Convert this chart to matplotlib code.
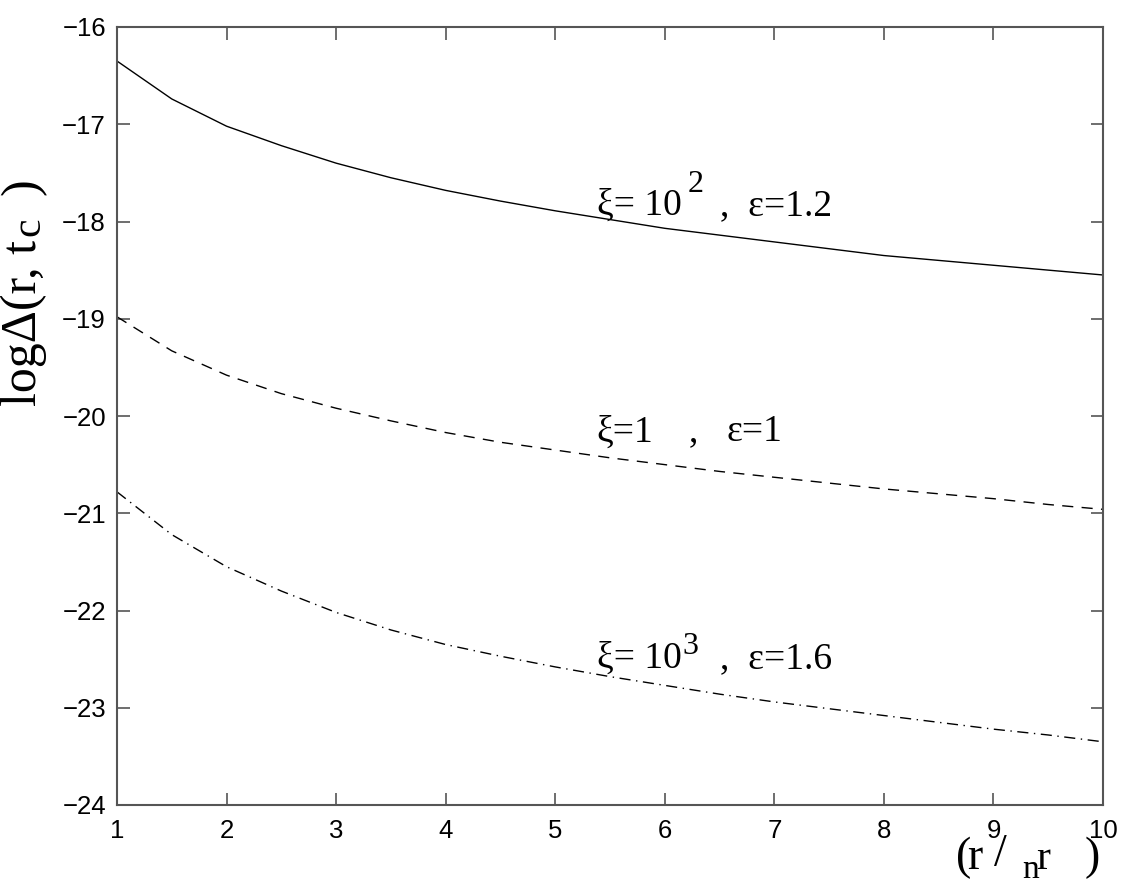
import matplotlib
matplotlib.use('Agg')
import matplotlib.pyplot as plt
from matplotlib.ticker import FixedLocator

# figure parameters
FIG_W, FIG_H = 1130, 884
DPI = 100
TICK_SIZE = 18.5
NOTE_SIZE = 27
LABEL_SIZE = 33

r_ratio = [1, 1.5, 2, 2.5, 3, 3.5, 4, 4.5, 5, 5.5, 6, 6.5, 7, 7.5, 8, 8.5, 9, 9.5, 10]

# xi = 10^2, eps = 1.2
log_delta_a = [-16.35, -16.74, -17.02, -17.22, -17.40, -17.55, -17.68, -17.79, -17.89, -17.98,
               -18.07, -18.14, -18.21, -18.28, -18.35, -18.40, -18.45, -18.50, -18.55]
# xi = 1, eps = 1
log_delta_b = [-18.98, -19.33, -19.58, -19.77, -19.92, -20.05, -20.17, -20.27, -20.35, -20.43,
               -20.50, -20.57, -20.63, -20.69, -20.75, -20.80, -20.85, -20.91, -20.96]
# xi = 10^3, eps = 1.6
log_delta_c = [-20.78, -21.22, -21.55, -21.80, -22.02, -22.20, -22.35, -22.47, -22.58, -22.68,
               -22.77, -22.86, -22.94, -23.01, -23.08, -23.15, -23.22, -23.28, -23.35]

x_ticks = list(range(1, 11))
y_ticks = list(range(-24, -15))

SERIF = 'Liberation Serif'


def px(x, y):
    # pixel position (from top-left) -> figure fraction
    return x / FIG_W, 1 - y / FIG_H


fig = plt.figure(figsize=(FIG_W / DPI, FIG_H / DPI), dpi=DPI)
l, b = px(117, 805)
r, t = px(1103, 27)
ax = fig.add_axes([l, b, r - l, t - b])

ax.plot(r_ratio, log_delta_a, '-', color='black', lw=1.0)
ax.plot(r_ratio, log_delta_b, color='black', lw=1.0, linestyle=(0, (8, 6)))
ax.plot(r_ratio, log_delta_c, color='black', lw=1.0, linestyle=(0, (8, 4, 1, 4)))

ax.set_xlim(1, 10)
ax.set_ylim(-24, -16)
ax.xaxis.set_major_locator(FixedLocator(x_ticks))
ax.yaxis.set_major_locator(FixedLocator(y_ticks))
ax.set_xticklabels([str(v) for v in x_ticks])
ax.set_yticklabels(['\u2212%d' % -v for v in y_ticks])
ax.tick_params(direction='in', length=9, width=1.2, color='#555555',
               top=True, right=True, labelsize=TICK_SIZE)
ax.tick_params(axis='x', pad=10)
ax.tick_params(axis='y', pad=8)
for lab in ax.get_xticklabels() + ax.get_yticklabels():
    lab.set_family('Liberation Sans')
for sp in ax.spines.values():
    sp.set_color('#555555')
    sp.set_linewidth(1.5)

# curve annotations
ax.text(5.38, -17.93, '\u03be= 10', fontsize=NOTE_SIZE, family=SERIF)
ax.text(6.21, -17.70, '2', fontsize=NOTE_SIZE - 4, family=SERIF)
ax.text(6.50, -17.93, ',  \u03b5=1.2', fontsize=NOTE_SIZE, family=SERIF)

ax.text(5.38, -20.26, '\u03be=1', fontsize=NOTE_SIZE, family=SERIF)
ax.text(6.22, -20.26, ',', fontsize=NOTE_SIZE, family=SERIF)
ax.text(6.56, -20.26, '\u03b5=1', fontsize=NOTE_SIZE, family=SERIF)

ax.text(5.38, -22.59, '\u03be= 10', fontsize=NOTE_SIZE, family=SERIF)
ax.text(6.16, -22.45, '3', fontsize=NOTE_SIZE - 4, family=SERIF)
ax.text(6.50, -22.59, ',  \u03b5=1.6', fontsize=NOTE_SIZE, family=SERIF)

# x label, drawn in pieces like the original export
fig.text(*px(956, 869), '(', fontsize=LABEL_SIZE, family=SERIF, va='baseline')
fig.text(*px(967, 869), 'r', fontsize=LABEL_SIZE, family=SERIF, va='baseline')
fig.text(*px(994, 866), '/', fontsize=LABEL_SIZE, family=SERIF, va='baseline')
fig.text(*px(1022, 878), 'n', fontsize=24, family=SERIF, va='baseline')
fig.text(*px(1036, 869), 'r', fontsize=LABEL_SIZE - 3, family=SERIF, va='baseline')
fig.text(*px(1085, 869), ')', fontsize=LABEL_SIZE, family=SERIF, va='baseline')

# y label, rotated pieces
ylab_kw = dict(family=SERIF, rotation=90, rotation_mode='anchor', va='baseline')
fig.text(*px(36, 240), 'log\u0394(r, t', fontsize=36, ha='right', **ylab_kw)
fig.text(*px(39, 236), 'c', fontsize=30, ha='left', **ylab_kw)
fig.text(*px(36, 195), ')', fontsize=36, ha='left', **ylab_kw)

fig.savefig('out.png', dpi=DPI)
